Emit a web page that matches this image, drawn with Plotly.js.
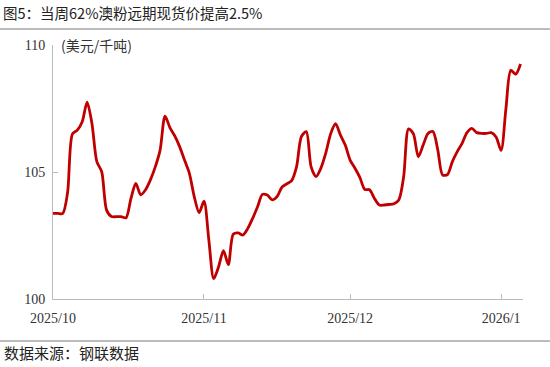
<!DOCTYPE html>
<html><head><meta charset="utf-8">
<script src="https://cdn.plot.ly/plotly-3.0.1.min.js"></script>
<style>html,body{margin:0;padding:0;background:#fff}#c{width:550px;height:367px}</style>
</head><body><div id="c"></div>
<script>
const dates = [
"2025-10-01","2025-10-02","2025-10-03","2025-10-04","2025-10-05","2025-10-06","2025-10-07","2025-10-08","2025-10-09","2025-10-10",
"2025-10-11","2025-10-12","2025-10-13","2025-10-14","2025-10-15","2025-10-16","2025-10-17","2025-10-18","2025-10-19","2025-10-20",
"2025-10-21","2025-10-22","2025-10-23","2025-10-24","2025-10-25","2025-10-26","2025-10-27","2025-10-28","2025-10-29","2025-10-30",
"2025-10-31","2025-11-01","2025-11-02","2025-11-03","2025-11-04","2025-11-05","2025-11-06","2025-11-07","2025-11-08","2025-11-09",
"2025-11-10","2025-11-11","2025-11-12","2025-11-13","2025-11-14","2025-11-15","2025-11-16","2025-11-17","2025-11-18","2025-11-19",
"2025-11-20","2025-11-21","2025-11-22","2025-11-23","2025-11-24","2025-11-25","2025-11-26","2025-11-27","2025-11-28","2025-11-29",
"2025-11-30","2025-12-01","2025-12-02","2025-12-03","2025-12-04","2025-12-05","2025-12-06","2025-12-07","2025-12-08","2025-12-09",
"2025-12-10","2025-12-11","2025-12-12","2025-12-13","2025-12-14","2025-12-15","2025-12-16","2025-12-17","2025-12-18","2025-12-19",
"2025-12-20","2025-12-21","2025-12-22","2025-12-23","2025-12-24","2025-12-25","2025-12-26","2025-12-27","2025-12-28","2025-12-29",
"2025-12-30","2025-12-31","2026-01-01","2026-01-02","2026-01-03","2026-01-04","2026-01-05"];
const prices = [
103.37,103.37,103.37,104.2,106.5,106.65,106.98,107.75,106.9,105.41,
105.01,103.5,103.25,103.24,103.24,103.2,103.95,104.55,104.1,104.3,
104.69,105.2,105.87,107.2,106.75,106.42,106.0,105.47,104.95,104.03,
103.4,103.85,102.32,100.8,101.27,101.9,101.35,102.55,102.6,102.52,
102.78,103.18,103.63,104.12,104.09,103.9,104.03,104.4,104.53,104.66,
105.2,106.39,106.59,105.2,104.82,105.15,105.74,106.5,106.9,106.46,
106.06,105.47,105.15,104.79,104.32,104.3,103.96,103.7,103.7,103.72,
103.75,103.9,104.82,106.7,106.5,105.6,106.06,106.52,106.59,105.87,
104.88,104.9,105.41,105.8,106.13,106.55,106.72,106.55,106.52,106.52,
106.55,106.37,105.85,107.5,109.0,108.85,109.25];
const xTickVals = ["2025-10-01","2025-11-01","2025-12-01","2026-01-01"];
const xTickText = ["2025/10","2025/11","2025/12","2026/1"];
const yTickVals = [100,105,110];
const titleText = "图5：当周62%澳粉远期现货价提高2.5%";
const unitText = "(美元/千吨)";
const sourceText = "数据来源：钢联数据";

const W = 470, H = 254;
const trace = {
  x: dates, y: prices, type: "scatter", mode: "lines",
  line: {color: "#C00000", width: 2.8, shape: "spline", smoothing: 0.8},
  hoverinfo: "skip"
};
const layout = {
  width: 550, height: 367,
  margin: {l: 53, r: 27, t: 45, b: 68},
  paper_bgcolor: "#fff", plot_bgcolor: "#fff",
  showlegend: false,
  title: {text: titleText, x: 3/550, xanchor: "left", xref: "container", y: 1-14/367, yanchor: "middle", yref: "container",
          font: {family: "Noto Sans CJK SC", size: 14.5, color: "#222"}},
  xaxis: {
    type: "date", range: ["2025-10-01", "2026-01-05 12:00"],
    tickmode: "array", tickvals: xTickVals, ticktext: xTickText,
    ticks: "inside", ticklen: 5, tickcolor: "#bbb", tickwidth: 1,
    ticklabelstandoff: 6,
    showline: true, linecolor: "#bbb", linewidth: 1, showgrid: false, zeroline: false,
    tickfont: {family: "Liberation Serif", size: 14, color: "#333"}
  },
  yaxis: {
    range: [100, 110], tickmode: "array", tickvals: yTickVals,
    ticks: "inside", ticklen: 5, tickcolor: "#bbb", tickwidth: 1,
    ticklabelstandoff: 4,
    showline: true, linecolor: "#bbb", linewidth: 1, showgrid: false, zeroline: false,
    tickfont: {family: "Liberation Serif", size: 14, color: "#333"}
  },
  shapes: [
    {type: "line", xref: "paper", yref: "paper", x0: -53/W, x1: 497/W, y0: (299-29)/H, y1: (299-29)/H, line: {color: "#a6a6a6", width: 1.5}},
    {type: "line", xref: "paper", yref: "paper", x0: -53/W, x1: 497/W, y0: (299-341)/H, y1: (299-341)/H, line: {color: "#a6a6a6", width: 1.5}}
  ],
  annotations: [
    {text: unitText, xref: "paper", yref: "paper", x: 6/W, y: 1, xanchor: "left", yanchor: "middle", showarrow: false,
     font: {family: "Noto Sans CJK SC", size: 14, color: "#333"}},
    {text: sourceText, xref: "paper", yref: "paper", x: -51/W, y: (299-352)/H, xanchor: "left", yanchor: "middle", showarrow: false,
     font: {family: "Noto Sans CJK SC", size: 15, color: "#222"}}
  ]
};
Plotly.newPlot("c", [trace], layout, {displayModeBar: false, staticPlot: true});
</script></body></html>
